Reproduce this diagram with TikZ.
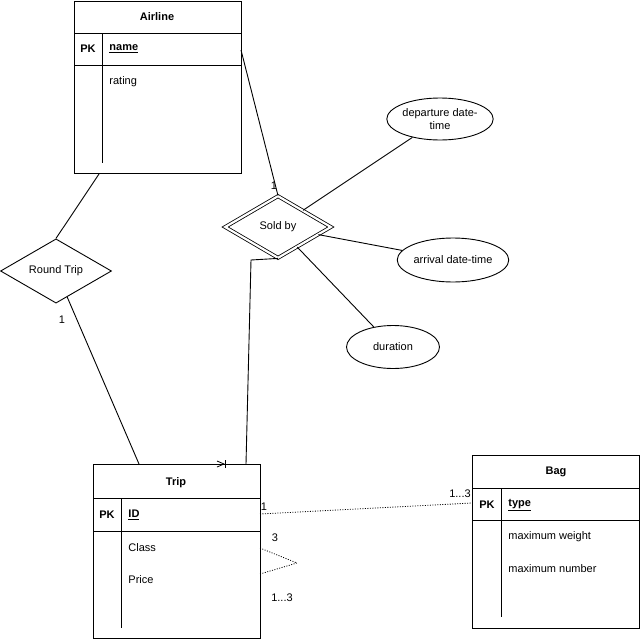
\documentclass[tikz,border=0pt]{standalone}
\usepackage{fontspec}
\setmainfont{Liberation Sans}
\usetikzlibrary{shapes.geometric}
\begin{document}
\begin{tikzpicture}[x=1pt,y=-1pt,line width=0.9pt,
  every node/.style={font=\fontsize{11}{13}\selectfont},
  tbl/.style={draw,anchor=north west,inner sep=0,line width=1pt},
  hd/.style={font=\fontsize{11}{13}\selectfont\bfseries},
  key/.style={font=\fontsize{11}{13}\selectfont\bfseries,anchor=west,inner sep=0},
  attr/.style={anchor=west,inner sep=0},
  lbl/.style={font=\fontsize{11}{13}\selectfont,inner sep=0},
  rel/.style={draw,diamond,inner sep=0,line width=0.9pt},
  att/.style={draw,ellipse,inner sep=0,line width=0.9pt,align=center},
  dotl/.style={dash pattern=on 1pt off 1.5pt,line width=0.8pt}]
\useasboundingbox (0,0) rectangle (640,640);

% Airline
\node[tbl,minimum width=167pt,minimum height=172pt] (airline) at (74,1) {};
\draw (74,33) -- (241,33);
\draw (74,65) -- (241,65);
\draw (102,33) -- (102,163);
\node[hd] (airlineT) at (157,17) {Airline};
\node[hd] (airlinePK) at (88,49) {PK};
\node[key] (airlineK) at (109,49) {\underline{name}};
\node[attr] (airlineA1) at (109,82) {rating};

% Trip
\node[tbl,minimum width=167pt,minimum height=174pt] (trip) at (93,464) {};
\draw (93,498) -- (260,498);
\draw (93,531) -- (260,531);
\draw (121,498) -- (121,628);
\node[hd] (tripT) at (176,483) {Trip};
\node[hd] (tripPK) at (107,515) {PK};
\node[key] (tripK) at (128,515) {\underline{ID}};
\node[attr] (tripA1) at (128,548) {Class};
\node[attr] (tripA2) at (128,580) {Price};

% Bag
\node[tbl,minimum width=167pt,minimum height=173pt] (bag) at (472,455) {};
\draw (472,488) -- (639,488);
\draw (472,520) -- (639,520);
\draw (501,488) -- (501,617);
\node[hd] (bagT) at (556,472) {Bag};
\node[hd] (bagPK) at (487,505) {PK};
\node[key] (bagK) at (508,505) {\underline{type}};
\node[attr] (bagA1) at (508,537) {maximum weight};
\node[attr] (bagA2) at (508,569) {maximum number};

% Relationships
\node[rel,minimum width=111pt,minimum height=64pt] (rt) at (56,271) {Round Trip};
\node[rel,double,double distance=2.2pt,line width=0.8pt,minimum width=106pt,minimum height=62pt] (sold) at (278,227) {Sold by};

% Attributes
\node[att,minimum width=94pt,minimum height=42pt] (dep) at (440,119) {departure date-\\time};
\node[att,minimum width=91pt,minimum height=44pt] (arr) at (453,260) {arrival date-time};
\node[att,minimum width=93pt,minimum height=43pt] (dur) at (393,347) {duration};

% Connectors
\coordinate (aR) at (241,50);
\draw (aR) -- (sold.north);
\draw ([xshift=25pt]airline.south west) -- (rt.north);
\draw (rt) -- ([xshift=46pt]trip.north west);
\coordinate (sb1) at (251,260);
\coordinate (sb2) at (246,464);
\draw (sold.south) -- (sb1) -- (sb2);
\draw (sold) -- (dep);
\draw (sold) -- (arr);
\draw (sold) -- (dur);

% one-marker on Trip top
\coordinate (m1) at (217,461);
\coordinate (m2) at (224,464);
\coordinate (m3) at (217,467);
\coordinate (m4) at (225,460);
\coordinate (m5) at (225,468);
\draw[line width=0.8pt] (m1) -- (m2) -- (m3);
\draw[line width=0.8pt] (m4) -- (m5);

% Trip - Bag
\coordinate (t1) at (260,514);
\coordinate (b1) at (472,503);
\draw[dotl] (t1) -- (b1);
\coordinate (c1) at (260,548);
\coordinate (c2) at (297,563);
\coordinate (c3) at (260,574);
\draw[dotl] (c1) -- (c2) -- (c3);

% Labels
\node[lbl] (l1) at (274,186) {1};
\node[lbl] (l2) at (62,320) {1};
\node[lbl] (l3) at (264,507) {1};
\node[lbl] (l4) at (460,494) {1...3};
\node[lbl] (l5) at (275,538) {3};
\node[lbl] (l6) at (282,598) {1...3};
\end{tikzpicture}
\end{document}
